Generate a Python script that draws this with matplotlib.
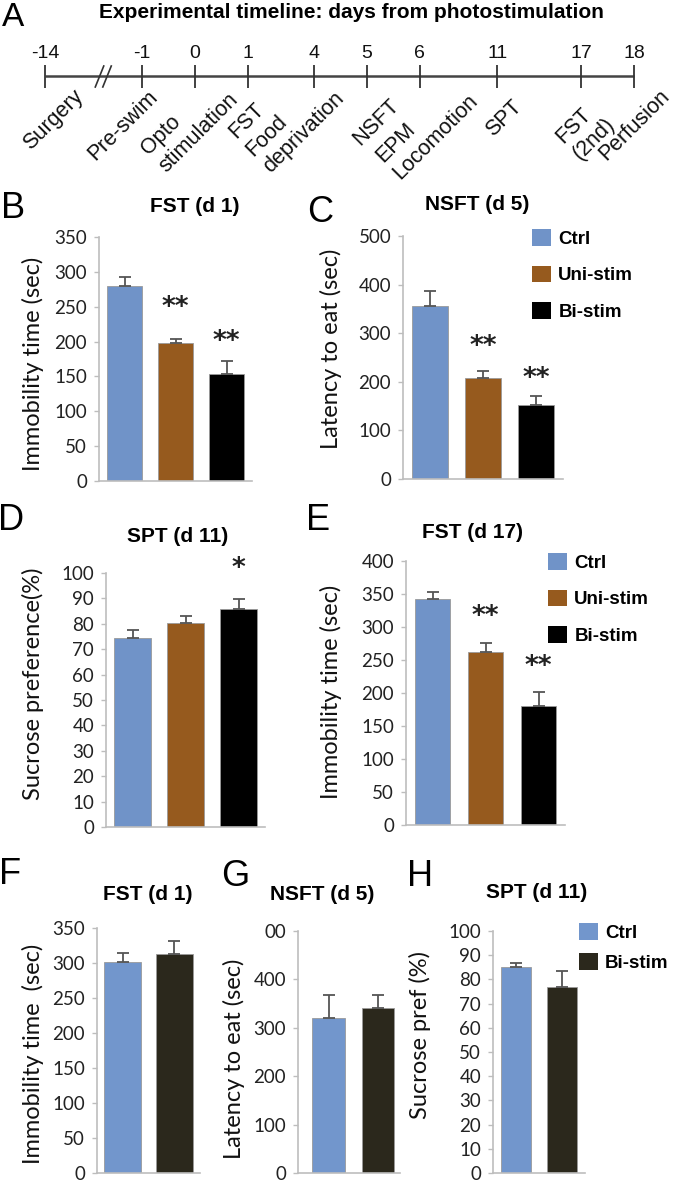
import numpy as np
import matplotlib
matplotlib.use("Agg")
import matplotlib.pyplot as plt
from matplotlib.patches import Patch

W, H = 674, 1183

# panel A: timeline
TL_DAYS = [-14, -1, 0, 1, 4, 5, 6, 11, 17, 18]
TL_EVENTS = ["Surgery", "Pre-swim", "Opto\nstimulation", "FST", "Food\ndeprivation",
             "NSFT", "EPM\nLocomotion", "SPT", "FST\n(2nd)", "Perfusion"]

GROUPS3 = ["Ctrl", "Uni-stim", "Bi-stim"]
GROUPS2 = ["Ctrl", "Bi-stim"]

# B-E (three groups)
fst_d1 = [280, 198, 153]
fst_d1_err = [12, 5, 19]
fst_d1_sig = ["", "**", "**"]

nsft_d5 = [355, 208, 152]
nsft_d5_err = [32, 15, 18]
nsft_d5_sig = ["", "**", "**"]

spt_d11 = [74.6, 80.3, 86.0]
spt_d11_err = [2.8, 2.8, 3.8]
spt_d11_sig = ["", "", "*"]

fst_d17 = [342, 262, 181]
fst_d17_err = [11, 14, 20]
fst_d17_sig = ["", "**", "**"]

# F-H (two groups)
fst_d1_b = [301, 313]
fst_d1_b_err = [14, 19]
nsft_d5_b = [320, 340]
nsft_d5_b_err = [47, 28]
spt_d11_b = [85.3, 76.8]
spt_d11_b_err = [1.5, 6.5]

COL3 = ["#7093c8", "#965a1e", "#000000"]
COL2 = ["#7296cc", "#2b281c"]

BODY = "Lato"
ARIAL = "Liberation Sans"


def px_axes(fig, left, top, right, bottom):
    return fig.add_axes([left / W, 1 - bottom / H, (right - left) / W, (bottom - top) / H])


def fig_text(fig, x, y, s, **kw):
    return fig.text(x / W, 1 - y / H, s, **kw)


def bar_panel(ax, values, errors, colors, ymax, step, xlim, width, sig=None, star_y=None,
              ticklabels=None):
    x = np.arange(len(values))
    ax.bar(x, values, width, color=colors, edgecolor="#9a9a9a", linewidth=0.6, zorder=2)
    ax.errorbar(x, values, yerr=[np.zeros(len(values)), errors], fmt="none",
                ecolor="#555555", elinewidth=1.3, capsize=4, capthick=1.3, zorder=3)
    if sig:
        for xi, s, sy in zip(x, sig, star_y):
            if s:
                ax.text(xi, sy, s, ha="center", va="center", fontsize=19,
                        fontweight="bold", family="DejaVu Sans", color="#222222")
    ax.set_xlim(*xlim)
    ax.set_ylim(0, ymax)
    ticks = np.arange(0, ymax + step / 2, step)
    ax.set_yticks(ticks)
    if ticklabels is not None:
        ax.set_yticklabels(ticklabels)
    ax.set_xticks([])
    for side in ["top", "right"]:
        ax.spines[side].set_visible(False)
    for side in ["left", "bottom"]:
        ax.spines[side].set_color("#bdbdbd")
        ax.spines[side].set_linewidth(1.2)
    ax.tick_params(axis="y", length=3.5, width=1.0, color="#bdbdbd", pad=5,
                   labelsize=13.5, labelcolor="#222222")
    for lab in ax.get_yticklabels():
        lab.set_family(BODY)
    ax.patch.set_alpha(0)


def legend(ax, labels, colors, anchor_px, spacing):
    handles = [Patch(facecolor=c, edgecolor="none") for c in colors]
    ax.legend(handles, labels, loc="upper left",
              bbox_to_anchor=(anchor_px[0] / W, 1 - anchor_px[1] / H),
              bbox_transform=ax.figure.transFigure, frameon=False,
              prop={"family": ARIAL, "weight": "bold", "size": 13.5},
              handlelength=1.0, handleheight=1.0, handletextpad=0.4,
              labelspacing=spacing, borderpad=0, borderaxespad=0)


def ylab(fig, x, y, s):
    fig_text(fig, x, y, s, ha="center", va="center", rotation=90, fontsize=17,
             family=BODY, color="#111111")


def title(fig, x, y, s):
    fig_text(fig, x, y, s, ha="center", va="center", fontsize=15, fontweight="bold",
             family=ARIAL)


def letter(fig, x, y, s):
    fig_text(fig, x, y, s, ha="center", va="center", fontsize=26, family=ARIAL)


fig = plt.figure(figsize=(W / 100, H / 100), dpi=100)

# ---- A: timeline
ax_t = px_axes(fig, 0, 0, W, 170)
ax_t.axis("off")
BREAK_GAP = 2.06
PX_PER_UNIT = 47.0
tl_pos = [i + 0.13 * d for i, d in enumerate(TL_DAYS)]
tl_pos[0] = tl_pos[1] - BREAK_GAP
ax_t.set_xlim(tl_pos[1] - 142 / PX_PER_UNIT, tl_pos[1] + (W - 142) / PX_PER_UNIT)
ax_t.set_ylim(170, 0)
ax_t.plot([tl_pos[0], tl_pos[-1]], [76, 76], color="#444444", lw=1.8, solid_capstyle="butt")
ax_t.vlines(tl_pos, 65, 88, color="#333333", lw=1.3)
bx = tl_pos[0] + 0.6 * BREAK_GAP
for off in (-0.08, 0.08):
    ax_t.plot([bx + off - 0.09, bx + off + 0.09], [87, 66], color="#333333", lw=1.2)
LABEL_NUDGE = [(27, 86), (5, 86), (15, 72), (5, 99), (3, 71),
               (22, 95), (30, 73), (14, 96), (6, 97), (25, 86)]
for p, d, ev, (dx, y) in zip(tl_pos, TL_DAYS, TL_EVENTS, LABEL_NUDGE):
    ax_t.text(p, 53, str(d), ha="center", va="center", fontsize=14, family=ARIAL,
              color="#111111")
    ax_t.text(p + dx / PX_PER_UNIT, y, ev, rotation=45, rotation_mode="anchor",
              ha="right", va="top", multialignment="left", fontsize=15.5, family=ARIAL,
              color="#111111", linespacing=1.2)
fig_text(fig, 351, 13, "Experimental timeline: days from photostimulation", ha="center",
         va="center", fontsize=15, fontweight="bold", family=ARIAL)
fig_text(fig, 13, 17, "A", ha="center", va="center", fontsize=24, family=ARIAL)

# ---- B
ax_b = px_axes(fig, 99, 237, 252, 481)
bar_panel(ax_b, fst_d1, fst_d1_err, COL3, 350, 50, (-0.5, 2.5), 0.69,
          fst_d1_sig, [0, 248, 199])
title(fig, 195, 207, "FST (d 1)")
letter(fig, 13, 208, "B")
ylab(fig, 33, 364, "Immobility time (sec)")

# ---- C
ax_c = px_axes(fig, 403, 236, 563, 479)
bar_panel(ax_c, nsft_d5, nsft_d5_err, COL3, 500, 100, (-0.5, 2.5), 0.67,
          nsft_d5_sig, [0, 272, 205])
legend(ax_c, GROUPS3, COL3, (532, 229), 0.95)
title(fig, 477, 205, "NSFT (d 5)")
letter(fig, 320, 213, "C")
ylab(fig, 331, 349, "Latency to eat (sec)")

# ---- D
ax_d = px_axes(fig, 106, 573, 265, 827)
bar_panel(ax_d, spt_d11, spt_d11_err, COL3, 100, 10, (-0.5, 2.5), 0.68,
          spt_d11_sig, [0, 0, 101.5])
title(fig, 178, 537, "SPT (d 11)")
letter(fig, 11, 520, "D")
ylab(fig, 33, 684, "Sucrose preference(%)")

# ---- E
ax_e = px_axes(fig, 406, 561, 565, 825)
bar_panel(ax_e, fst_d17, fst_d17_err, COL3, 400, 50, (-0.5, 2.5), 0.67,
          fst_d17_sig, [0, 315, 240])
legend(ax_e, GROUPS3, COL3, (548, 553), 0.95)
title(fig, 473, 533, "FST (d 17)")
letter(fig, 318, 520, "E")
ylab(fig, 331, 692, "Immobility time (sec)")

# ---- F
ax_f = px_axes(fig, 97, 928, 200, 1173)
bar_panel(ax_f, fst_d1_b, fst_d1_b_err, COL2, 350, 50, (-0.5, 1.5), 0.72)
title(fig, 148, 895, "FST (d 1)")
letter(fig, 10, 875, "F")
ylab(fig, 33, 1054, "Immobility time  (sec)")

# ---- G (top tick label clipped to "00" in the original)
ax_g = px_axes(fig, 298, 931, 400, 1173)
bar_panel(ax_g, nsft_d5_b, nsft_d5_b_err, COL2, 500, 100, (-0.62, 1.45), 0.66,
          ticklabels=["0", "100", "200", "300", "400", "00"])
title(fig, 322, 895, "NSFT (d 5)")
letter(fig, 235, 877, "G")
ylab(fig, 234, 1059, "Latency to eat (sec)")

# ---- H
ax_h = px_axes(fig, 493, 931, 585, 1173)
bar_panel(ax_h, spt_d11_b, spt_d11_b_err, COL2, 100, 10, (-0.5, 1.5), 0.67)
legend(ax_h, GROUPS2, COL2, (579, 923), 0.6)
title(fig, 537, 893, "SPT (d 11)")
letter(fig, 420, 877, "H")
ylab(fig, 420, 1035, "Sucrose pref (%)")

fig.savefig("out.png", dpi=100)
